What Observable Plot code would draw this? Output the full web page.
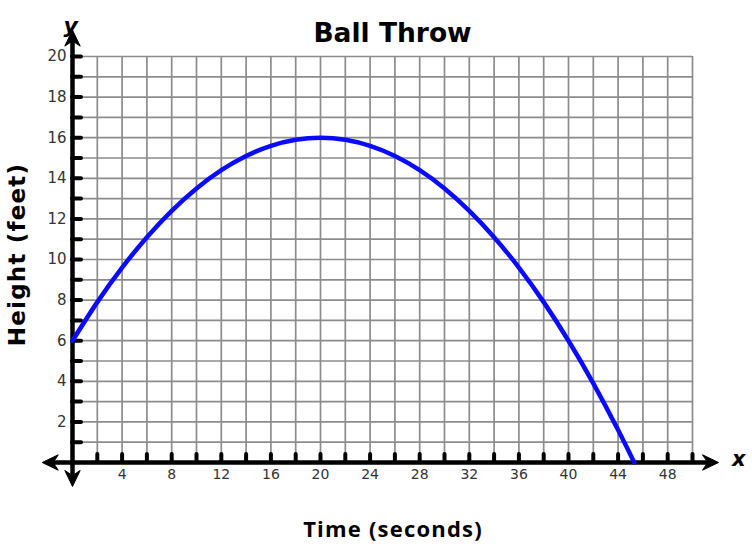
<!DOCTYPE html>
<html>
<head>
<meta charset="utf-8">
<script src="https://cdn.jsdelivr.net/npm/d3@7"></script>
<script src="https://cdn.jsdelivr.net/npm/@observablehq/plot@0.6"></script>
<style>
  html, body { margin: 0; padding: 0; background: #fff; }
  svg { display: block; overflow: visible; }
</style>
</head>
<body>
<div id="chart"></div>
<script>
// ---- data ----
const times   = [0, 2, 4, 6, 8, 10, 12, 14, 16, 18, 20, 22, 24, 26, 28, 30, 32, 34, 36, 38, 40, 42, 44, 45.3];
const heights = [6, 7.9, 9.6, 11.1, 12.4, 13.5, 14.4, 15.1, 15.6, 15.9, 16, 15.9, 15.6, 15.1, 14.4, 13.5, 12.4, 11.1, 9.6, 7.9, 6, 3.9, 1.6, 0];
const xTickLabels = [4, 8, 12, 16, 20, 24, 28, 32, 36, 40, 44, 48];
const yTickLabels = [2, 4, 6, 8, 10, 12, 14, 16, 18, 20];
const xGridLines = [2, 4, 6, 8, 10, 12, 14, 16, 18, 20, 22, 24, 26, 28, 30, 32, 34, 36, 38, 40, 42, 44, 46, 48, 50];
const yGridLines = [1, 2, 3, 4, 5, 6, 7, 8, 9, 10, 11, 12, 13, 14, 15, 16, 17, 18, 19, 20];
const xAxisExtent = [-2.44, 52.1];
const yAxisExtent = [-1.18, 21.3];

const title = "Ball Throw";
const xLabel = "Time (seconds)";
const yLabel = "Height (feet)";

const points = times.map((t, i) => ({t, h: heights[i]}));

// arrowhead symbol (tip at origin, pointing up)
const arrowHead = {
  draw(ctx, size) {
    const L = Math.sqrt(size / Math.PI);
    ctx.moveTo(0, 0);
    ctx.lineTo(L * 0.48, L);
    ctx.lineTo(0, L * 0.68);
    ctx.lineTo(-L * 0.48, L);
    ctx.closePath();
  }
};

const W = 752, H = 546;
const mL = 72, mR = 60, mT = 56, mB = 84;
const frameW = W - mL - mR, frameH = H - mT - mB;

const heads = [
  {x: xAxisExtent[0], y: 0, r: -90},
  {x: xAxisExtent[1], y: 0, r: 90},
  {x: 0, y: yAxisExtent[1], r: 0},
  {x: 0, y: yAxisExtent[0], r: 180}
];

const tickFont = "DejaVu Sans, Verdana, sans-serif";

const chart = Plot.plot({
  width: W,
  height: H,
  marginLeft: mL, marginRight: mR, marginTop: mT, marginBottom: mB,
  x: {domain: [0, 50], axis: null},
  y: {domain: [0, 20], axis: null},
  style: {background: "#fff", overflow: "visible"},
  marks: [
    // grid
    Plot.ruleX(xGridLines, {x: d => d, y1: 0, y2: 20, stroke: "#8c8c8c", strokeWidth: 1.7}),
    Plot.ruleY(yGridLines, {y: d => d, x1: 0, x2: 50, stroke: "#8c8c8c", strokeWidth: 1.7}),
    // tick marks
    Plot.ruleY(yGridLines, {y: d => d, insetRight: frameW - 9, stroke: "#000", strokeWidth: 4, strokeLinecap: "round"}),
    Plot.ruleX(xGridLines, {x: d => d, insetTop: frameH - 8, stroke: "#000", strokeWidth: 4, strokeLinecap: "round"}),
    // axes
    Plot.ruleY([0], {x1: xAxisExtent[0] + 0.8, x2: xAxisExtent[1] - 0.8, stroke: "#000", strokeWidth: 4.5}),
    Plot.ruleX([0], {y1: yAxisExtent[0] + 0.5, y2: yAxisExtent[1] - 0.5, stroke: "#000", strokeWidth: 4.5}),
    Plot.dot(heads, {x: "x", y: "y", rotate: "r", symbol: arrowHead, r: 16, fill: "#000", stroke: "#000", strokeWidth: 1}),
    // curve
    Plot.line(points, {x: "t", y: "h", curve: "natural", stroke: "#0a0aff", strokeWidth: 4.5}),
    // tick labels
    Plot.text(yTickLabels, {x: 0, y: d => d, text: d => String(d), dx: -6, textAnchor: "end", fontSize: 15, fontFamily: tickFont, fill: "#333"}),
    Plot.text(xTickLabels, {x: d => d, y: 0, text: d => String(d), dy: 12, fontSize: 14, fontFamily: tickFont, fill: "#333"}),
    // axis letters
    Plot.text(["y"], {frameAnchor: "top-left", dx: -9, dy: -39, fontSize: 22, fontWeight: "bold", fontStyle: "italic", fontFamily: tickFont, fill: "#000"}),
    Plot.text(["x"], {frameAnchor: "bottom-right", dx: 53, dy: 3, fontSize: 21, fontWeight: "bold", fontStyle: "italic", fontFamily: tickFont, fill: "#000"}),
    // title & labels
    Plot.text([title], {frameAnchor: "top", dx: 10, dy: -33, fontSize: 26.5, fontWeight: "bold", fontFamily: tickFont, fill: "#000"}),
    Plot.text([yLabel], {x: [-4.43], y: [10.25], rotate: -90, fontSize: 23, fontWeight: "bold", fontFamily: tickFont, fill: "#000"}),
    Plot.text([xLabel], {frameAnchor: "bottom", dx: 10.5, dy: 74, fontSize: 22, fontWeight: "bold", fontFamily: "'Open Sans', Lato, sans-serif", fill: "#000"})
  ]
});

// letter spacing for the axis titles
d3.select(chart).selectAll("text").each(function () {
  if (this.textContent === xLabel) d3.select(this).style("letter-spacing", "1.2px");
  if (this.textContent === yLabel) d3.select(this).style("letter-spacing", "1.2px");
});

document.getElementById("chart").appendChild(chart);
</script>
</body>
</html>
